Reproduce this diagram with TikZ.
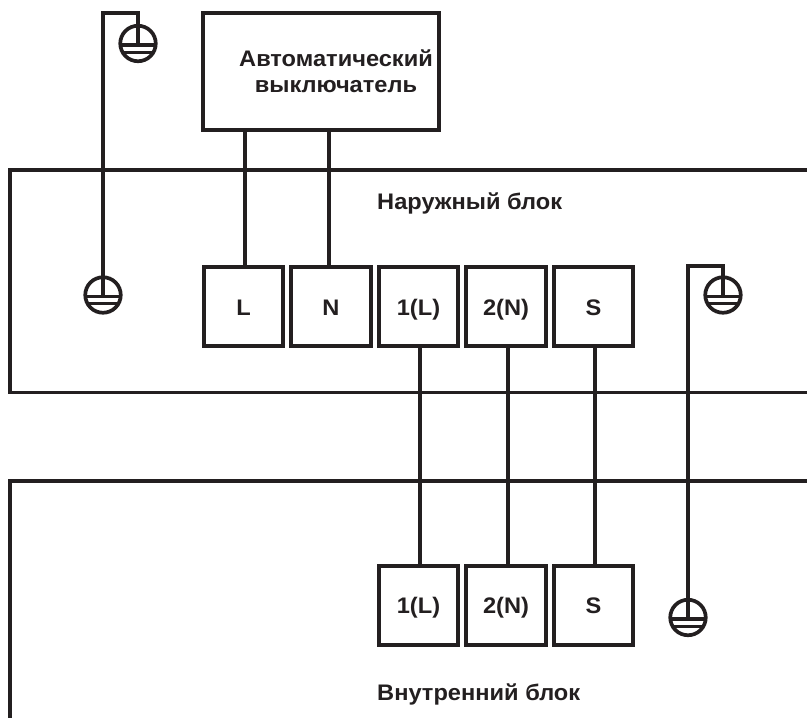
\documentclass[tikz,border=0pt]{standalone}
\usepackage{fontspec}
\setmainfont{Liberation Sans}[BoldFeatures={FakeStretch=1.05}]
\begin{document}
\begin{tikzpicture}[x=1pt,y=-1pt,
  wire/.style={draw=ink,line width=3.9pt,line cap=butt,line join=miter},
  term/.style={draw=ink,line width=3.9pt,fill=white,minimum width=79.5pt,minimum height=79.5pt,inner sep=0pt},
  lab/.style={font=\bfseries\fontsize{22.5}{26}\selectfont,text=ink,inner sep=0pt,align=center},
  gring/.style={circle,draw=ink,line width=3.7pt,minimum size=35.5pt,inner sep=0pt,fill=white}]
\definecolor{ink}{HTML}{231F20}
\useasboundingbox (0,0) rectangle (807,718);
% blocks
\draw[wire] (807,170) -- (10,170) -- (10,392.5) -- (807,392.5);
\draw[wire] (807,481) -- (10,481) -- (10,718);
% breaker
\node[term,minimum width=236pt,minimum height=117pt] (qf) at (321,71.5) {};
\node[lab,anchor=base] (qft) at (336,66) {Автоматический};
\node[lab,anchor=base] (qfu) at (336,92) {выключатель};
% outdoor terminals
\node[term] (L) at (243.5,306.5) {};
\node[term] (N) at (331,306.5) {};
\node[term] (o1) at (418.5,306.5) {};
\node[term] (o2) at (506,306.5) {};
\node[term] (oS) at (593.5,306.5) {};
% indoor terminals
\node[term] (i1) at (418.5,605.5) {};
\node[term] (i2) at (506,605.5) {};
\node[term] (iS) at (593.5,605.5) {};
\foreach \n/\x/\y/\t in {lL/243.5/315/L,lN/331/315/N,l1/418.5/315/1(L),l2/506/315/2(N),lS/593.5/315/S,m1/418.5/613.5/1(L),m2/506/613.5/2(N),mS/593.5/613.5/S}{
  \node[lab,anchor=base] (\n) at (\x,\y) {\t};
}
\node[lab,anchor=base west] (ot) at (377,209) {Наружный блок};
\node[lab,anchor=base west] (it) at (377,700) {Внутренний блок};
% connectors
\draw[wire] ([xshift=1.5pt]qf.south -| L) -- ([xshift=1.5pt]L.north);
\draw[wire] ([xshift=-2pt]qf.south -| N) -- ([xshift=-2pt]N.north);
\draw[wire] ([xshift=1.5pt]o1.south) -- ([xshift=1.5pt]i1.north);
\draw[wire] ([xshift=1.8pt]o2.south) -- ([xshift=1.8pt]i2.north);
\draw[wire] ([xshift=1.5pt]oS.south) -- ([xshift=1.5pt]iS.north);
% grounds
\foreach \n/\x/\y in {ga/138/43.5,gb/103/295,gc/723/295,gd/688/617.5}{
  \node[gring] (\n) at (\x,\y) {};
  \draw[ink,line width=3.4pt] ([xshift=-17pt,yshift=-1.5pt]\n.center) -- ([xshift=17pt,yshift=-1.5pt]\n.center);
  \draw[ink,line width=3pt] ([xshift=-15pt,yshift=-8.5pt]\n.center) -- ([xshift=15pt,yshift=-8.5pt]\n.center);
}
\coordinate (tt) at (138,13);
\coordinate (tb) at (103,13);
\draw[wire] ([yshift=-1.5pt]ga.center) -- (tt) -- (tb) -- (gb.north -| tb);
\coordinate (rt) at (723,266);
\coordinate (rb) at (688,266);
\draw[wire] ([yshift=-1.5pt]gc.center) -- (rt) -- (rb) -- (gd.north);
\draw[wire] (gb.north) -- ([yshift=-1.5pt]gb.center);
\draw[wire] (gd.north) -- ([yshift=-1.5pt]gd.center);
\end{tikzpicture}
\end{document}
